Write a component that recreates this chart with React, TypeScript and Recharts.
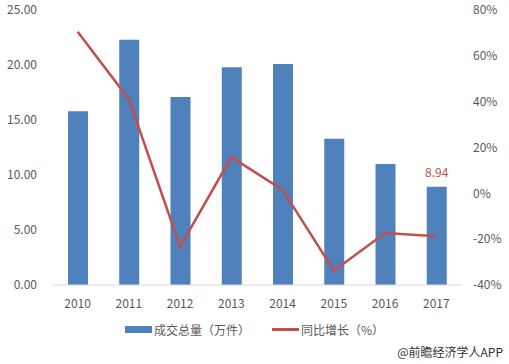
import React from 'react';
import { ComposedChart, Bar, Line, XAxis, YAxis, LabelList } from 'recharts';

const years = ['2010', '2011', '2012', '2013', '2014', '2015', '2016', '2017'];
const volume = [15.8, 22.3, 17.1, 19.8, 20.1, 13.3, 11.0, 8.94];
const growth = [70.5, 41.1, -23.3, 15.8, 1.5, -33.8, -17.3, -18.7];
const leftTicks = [0, 5, 10, 15, 20, 25];
const rightTicks = [-40, -20, 0, 20, 40, 60, 80];
const barName = '成交总量（万件）';
const lineName = '同比增长（%）';
const footer = '@前瞻经济学人APP';

const data = years.map((y, i) => ({ year: y, volume: volume[i], growth: growth[i] }));

const BLUE = '#4F81BD';
const RED = '#C0504D';
const TXT = '#595959';
const FONT = '"Noto Sans CJK SC", "Noto Sans", sans-serif';

const LastLabel = (props: any) => {
  const { x, y, width, value, index } = props;
  if (index !== years.length - 1) return null;
  return (
    <text x={x + width / 2} y={y - 10} textAnchor="middle" fill={RED} fontSize={12} fontFamily={FONT}>
      {value}
    </text>
  );
};

export default function App() {
  return (
    <div style={{ position: 'absolute', left: 0, top: 0, width: 509, height: 364, background: '#fff', fontFamily: FONT }}>
      <ComposedChart width={509} height={364} data={data} margin={{ top: 10, right: 0, bottom: 54, left: 0 }}>
        <XAxis
          dataKey="year"
          axisLine={{ stroke: '#D9D9D9' }}
          tickLine={false}
          tick={{ fill: TXT, fontSize: 12, fontFamily: FONT }}
          tickMargin={8}
          height={25}
        />
        <YAxis
          yAxisId="left"
          domain={[0, 25]}
          ticks={leftTicks}
          tickFormatter={(v: number) => v.toFixed(2)}
          axisLine={false}
          tickLine={false}
          tick={{ fill: TXT, fontSize: 12, fontFamily: FONT }}
          width={52}
          tickMargin={9}
        />
        <YAxis
          yAxisId="right"
          orientation="right"
          domain={[-40, 80]}
          ticks={rightTicks}
          tickFormatter={(v: number) => `${v}%`}
          axisLine={false}
          tickLine={false}
          tick={{ fill: TXT, fontSize: 12, fontFamily: FONT }}
          width={47}
          tickMargin={5}
        />
        <Bar yAxisId="left" dataKey="volume" fill={BLUE} barSize={20} isAnimationActive={false}>
          <LabelList dataKey="volume" content={LastLabel} />
        </Bar>
        <Line
          yAxisId="right"
          dataKey="growth"
          stroke={RED}
          strokeWidth={2.5}
          dot={false}
          activeDot={false}
          isAnimationActive={false}
        />
      </ComposedChart>
      <div style={{ position: 'absolute', top: 321, left: 0, width: 509, display: 'flex', justifyContent: 'center', alignItems: 'center', fontSize: 12, color: TXT, whiteSpace: 'nowrap' }}>
        <span style={{ display: 'inline-block', width: 27, height: 7, background: BLUE, marginRight: 2 }} />
        <span>{barName}</span>
        <span style={{ display: 'inline-block', width: 27, height: 3, background: RED, marginLeft: 22, marginRight: 2 }} />
        <span>{lineName}</span>
      </div>
      <div style={{ position: 'absolute', top: 343, right: 6, fontSize: 12, color: '#333', whiteSpace: 'nowrap' }}>
        {footer}
      </div>
    </div>
  );
}
